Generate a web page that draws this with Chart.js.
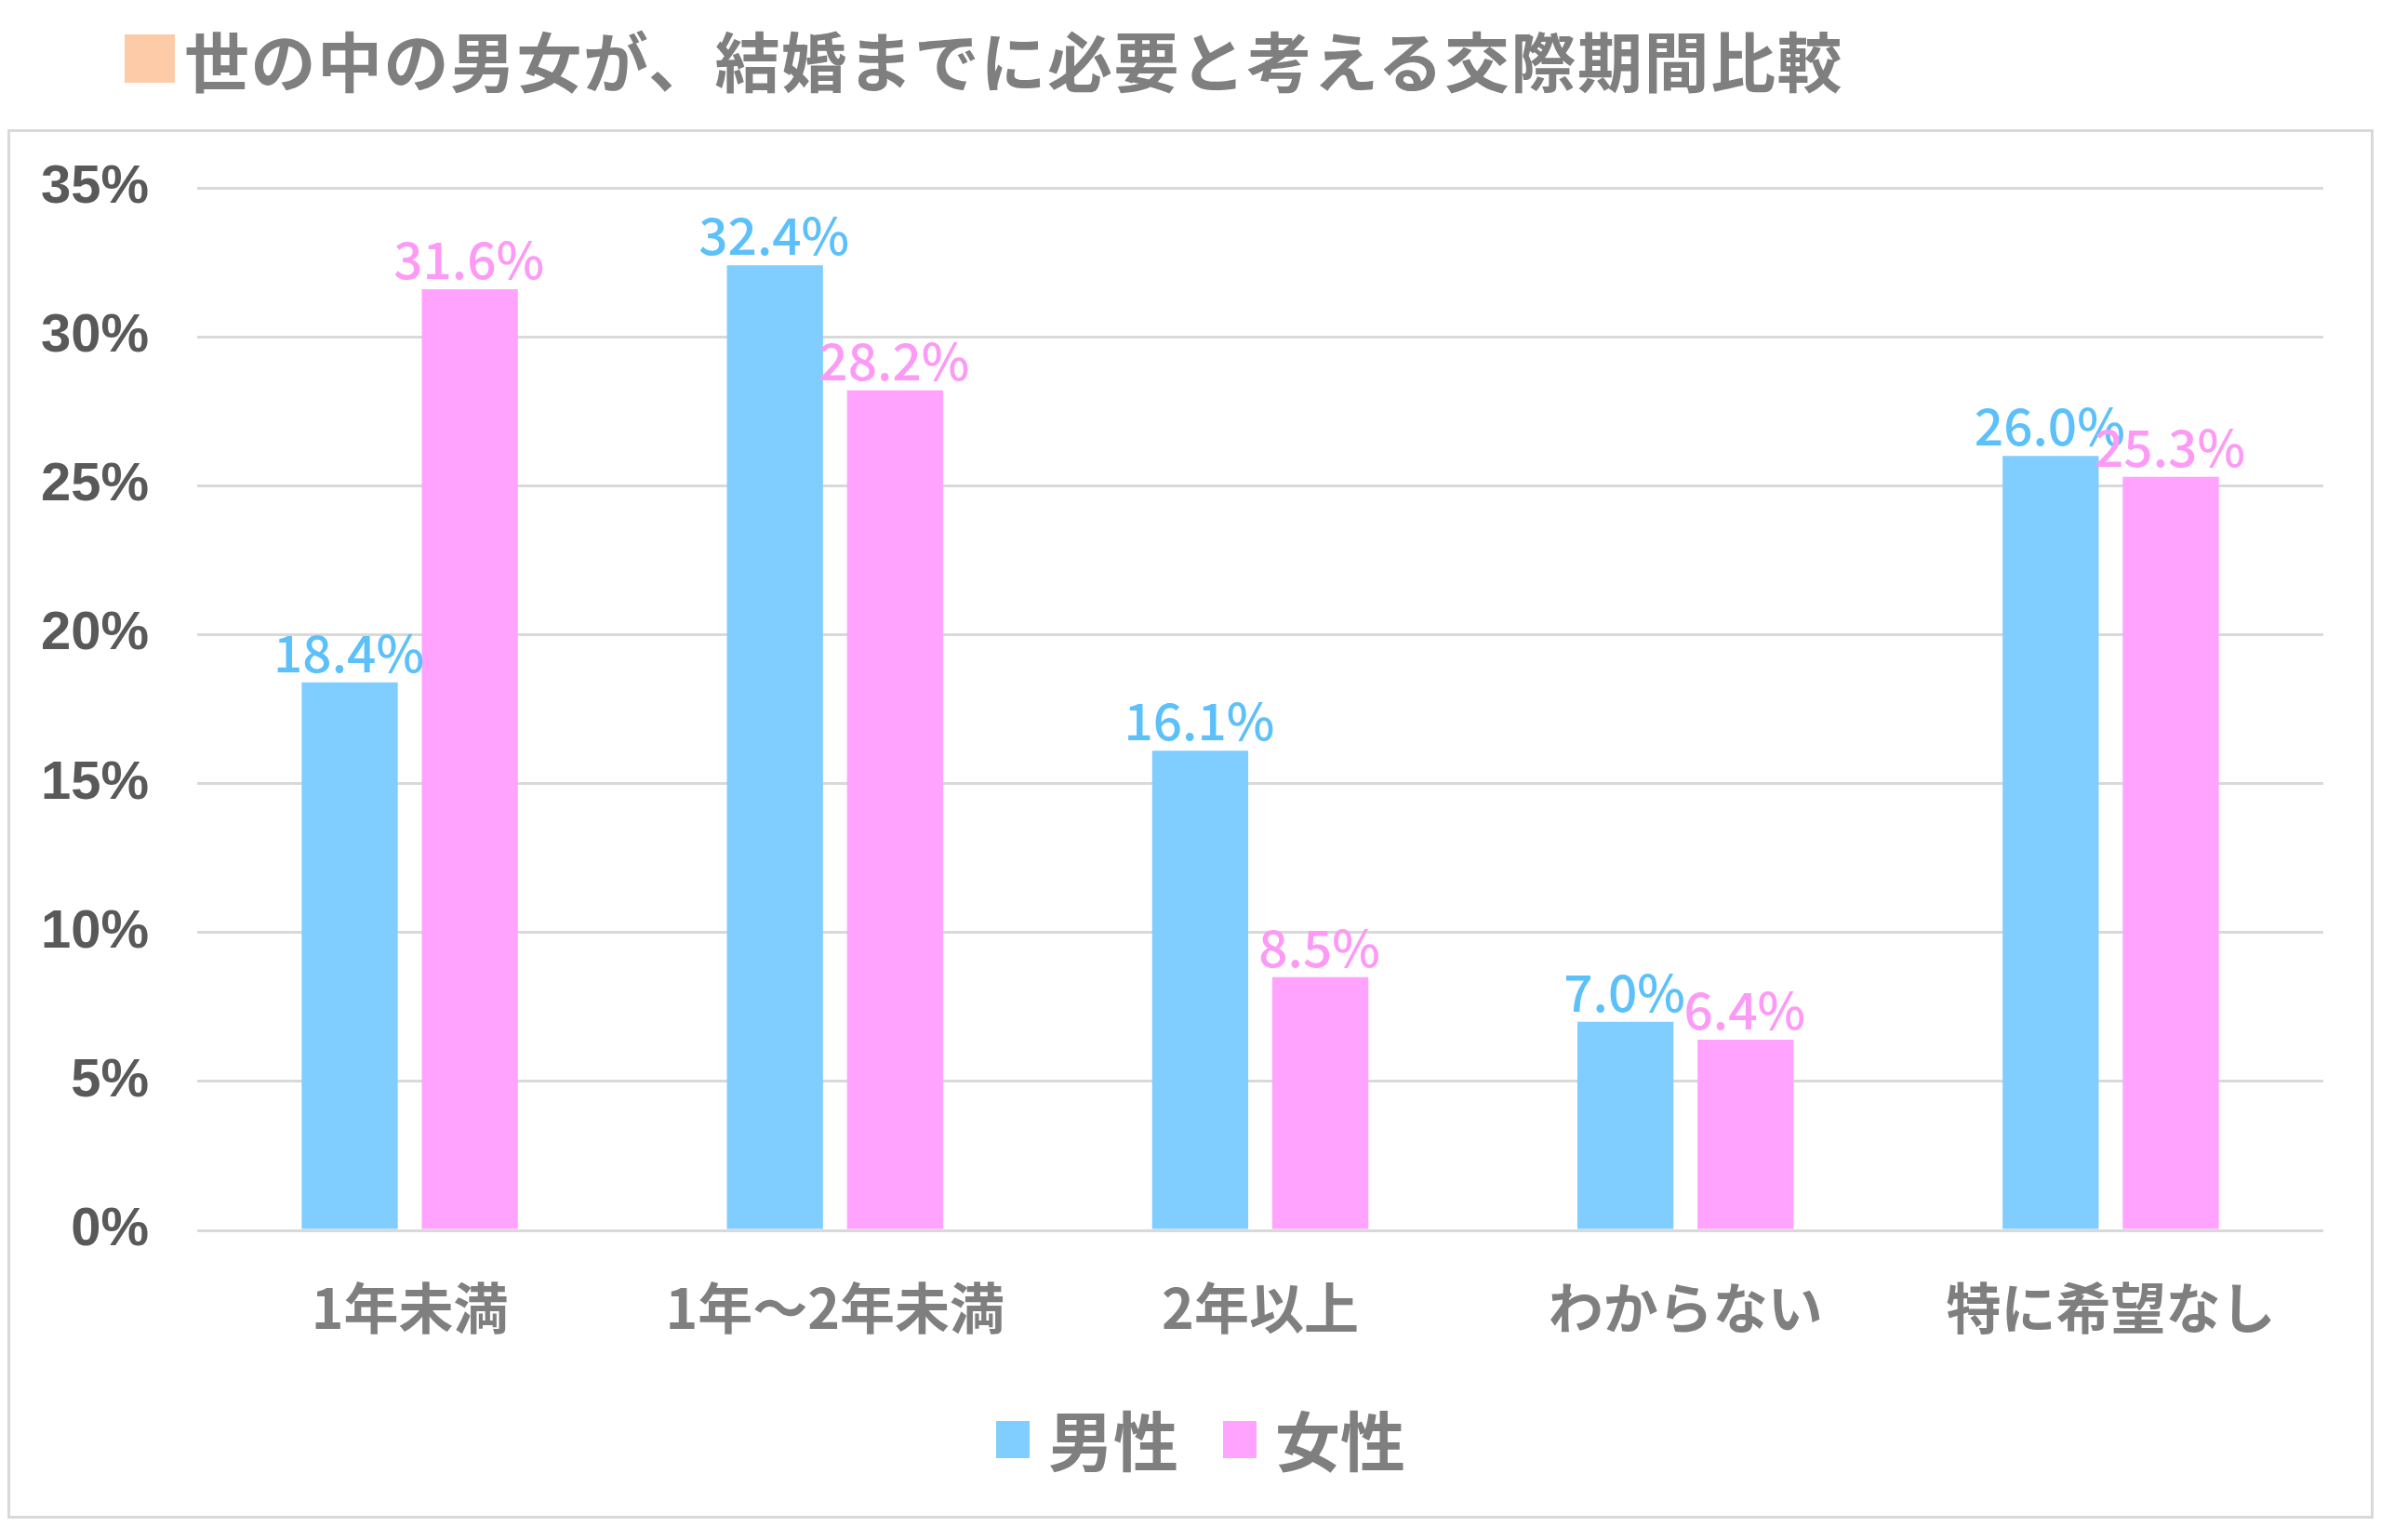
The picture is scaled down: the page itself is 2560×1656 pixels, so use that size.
<!DOCTYPE html>
<html>
<head>
<meta charset="utf-8">
<script src="https://cdn.jsdelivr.net/npm/chart.js@4"></script>
<style>
  html, body { margin: 0; padding: 0; background: #ffffff; }
  #wrap { position: relative; width: 2560px; height: 1656px; overflow: hidden; }
  #title { position: absolute; left: 134px; top: 18px; height: 90px; display: flex; align-items: center;
           font-family: "Noto Sans CJK JP", sans-serif; font-weight: 700; font-size: 70px; color: #7f7f7f; letter-spacing: 1.5px; white-space: nowrap; }
  #title .sq { display: inline-block; width: 54px; height: 52px; background: #fdcba8; margin-right: 10px; }
  #frame { position: absolute; left: 8px; top: 139px; width: 2538px; height: 1488px; border: 3px solid #d9d9d9; }
  canvas { position: absolute; left: 0; top: 0; }
</style>
</head>
<body>
<div id="wrap">
  <div id="title"><span class="sq"></span>世の中の男女が、結婚までに必要と考える交際期間比較</div>
  <div id="frame"></div>
  <canvas id="c" width="2560" height="1656"></canvas>
</div>
<script>
const categories = ["1年未満", "1年～2年未満", "2年以上", "わからない", "特に希望なし"];
const maleValues = [18.4, 32.4, 16.1, 7.0, 26.0];
const femaleValues = [31.6, 28.2, 8.5, 6.4, 25.3];
const seriesNames = ["男性", "女性"];
const barColors = ["#80ceff", "#ffa3ff"];
const labelColors = ["#5cc0fa", "#fc9af6"];

const dataLabelPlugin = {
  id: 'dataLabels',
  afterDatasetsDraw(chart) {
    const ctx = chart.ctx;
    ctx.save();
    ctx.font = '500 55px "Noto Sans CJK JP", sans-serif';
    ctx.textAlign = 'center';
    ctx.textBaseline = 'alphabetic';
    chart.data.datasets.forEach((ds, di) => {
      const meta = chart.getDatasetMeta(di);
      ctx.fillStyle = labelColors[di];
      meta.data.forEach((bar, i) => {
        ctx.fillText(ds.data[i].toFixed(1) + '%', bar.x - 1, bar.y - 11);
      });
    });
    ctx.restore();
  }
};

const legendPlugin = {
  id: 'customLegend',
  afterDraw(chart) {
    const ctx = chart.ctx;
    ctx.save();
    ctx.font = '700 70px "Noto Sans CJK JP", sans-serif';
    ctx.textBaseline = 'middle';
    ctx.textAlign = 'left';
    const cy = 1548;
    const box = 36, gapBoxText = 20, gapItems = 48;
    const items = chart.data.datasets.map((ds) => ({ label: ds.label, color: ds.backgroundColor, w: ctx.measureText(ds.label).width }));
    let total = 0;
    items.forEach((it, k) => { total += box + gapBoxText + it.w + (k < items.length - 1 ? gapItems : 0); });
    let x = 1291 - total / 2;
    items.forEach((it) => {
      ctx.fillStyle = it.color;
      ctx.fillRect(x, cy - 20, box, 40);
      x += box + gapBoxText;
      ctx.fillStyle = '#7f7f7f';
      ctx.fillText(it.label, x, cy + 2);
      x += it.w + gapItems;
    });
    ctx.restore();
  }
};

new Chart(document.getElementById('c'), {
  type: 'bar',
  data: {
    labels: categories,
    datasets: [
      { label: seriesNames[0], data: maleValues, backgroundColor: barColors[0] },
      { label: seriesNames[1], data: femaleValues, backgroundColor: barColors[1] }
    ]
  },
  options: {
    responsive: false,
    animation: false,
    devicePixelRatio: 1,
    layout: { padding: { left: 0, right: 62, top: 202, bottom: 0 } },
    datasets: { bar: { categoryPercentage: 0.565, barPercentage: 0.80 } },
    plugins: { legend: { display: false }, title: { display: false }, tooltip: { enabled: false } },
    scales: {
      x: {
        grid: { display: false },
        border: { display: false },
        ticks: { color: '#7f7f7f', font: { family: '"Noto Sans CJK JP", sans-serif', size: 59, weight: '700' }, padding: 40, maxRotation: 0 },
        afterFit(scale) { scale.height = 333; }
      },
      y: {
        min: 0, max: 35,
        grid: { color: '#d9d9d9', lineWidth: 3, drawTicks: false },
        border: { display: false },
        ticks: { stepSize: 5, color: '#595959', padding: 52,
                 font: { family: '"Liberation Sans", Arial, sans-serif', size: 58, weight: '700' },
                 callback: (v) => v + '%' },
        afterFit(scale) { scale.width = 212; }
      }
    }
  },
  plugins: [dataLabelPlugin, legendPlugin]
});
</script>
</body>
</html>
